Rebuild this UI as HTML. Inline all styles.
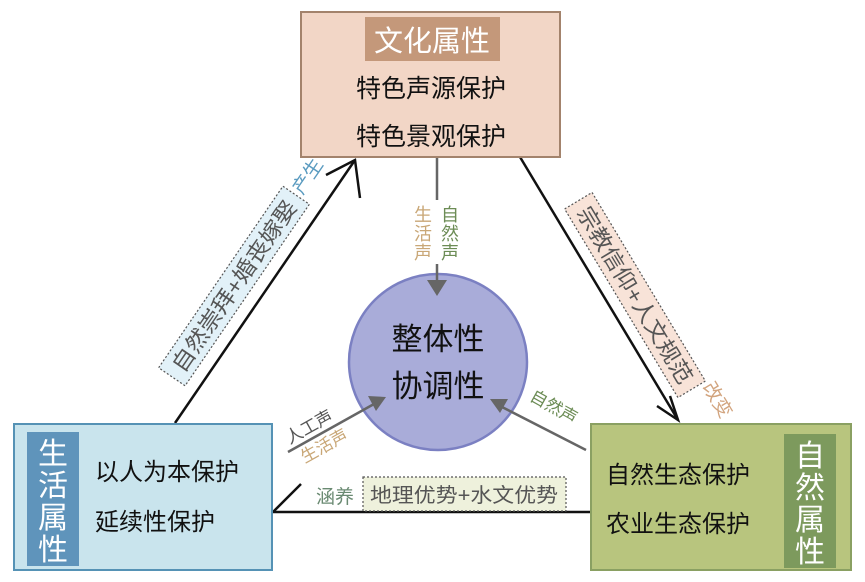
<!DOCTYPE html>
<html><head><meta charset="utf-8"><style>
html,body{margin:0;padding:0;background:#fff;}
svg{display:block;font-family:"Liberation Sans","Noto Sans CJK SC",sans-serif;}
</style></head><body>
<svg width="865" height="582" viewBox="0 0 865 582" xmlns="http://www.w3.org/2000/svg">
<!-- triangle lines -->
<line x1="175" y1="423" x2="355" y2="160" stroke="#111" stroke-width="2.5"/>
<polyline points="326,175 355,160 360,198" fill="none" stroke="#111" stroke-width="2.5"/>
<line x1="520" y1="157" x2="678" y2="420" stroke="#111" stroke-width="2.5"/>
<polyline points="657,406 678,420 670,396" fill="none" stroke="#111" stroke-width="2.5"/>
<line x1="272" y1="512" x2="590" y2="512" stroke="#111" stroke-width="2.5"/>
<line x1="273" y1="512" x2="301" y2="484" stroke="#111" stroke-width="2.5"/>

<!-- slanted label boxes -->
<g transform="translate(234,286) rotate(-55.6)">
<rect x="-110" y="-16" width="220" height="32" fill="#e2f1f8" stroke="#555" stroke-width="1.2" stroke-dasharray="2,2"/>
<text x="0" y="8" font-size="22" fill="#555" text-anchor="middle" textLength="202" lengthAdjust="spacingAndGlyphs">自然崇拜+婚丧嫁娶</text>
</g>
<text transform="translate(313,180) rotate(-55.6)" font-size="19" fill="#5a9bc0" text-anchor="middle">产生</text>
<g transform="translate(635,295) rotate(59)">
<rect x="-110" y="-16" width="220" height="32" fill="#f8e3d8" stroke="#555" stroke-width="1.2" stroke-dasharray="2,2"/>
<text x="0" y="8" font-size="22" fill="#555" text-anchor="middle" textLength="202" lengthAdjust="spacingAndGlyphs">宗教信仰+人文规范</text>
</g>
<text transform="translate(712,403) rotate(59)" font-size="19" fill="#d2a47e" text-anchor="middle">改变</text>

<!-- center circle -->
<ellipse cx="438" cy="362" rx="89" ry="88" fill="#a9acd9" stroke="#7b80c2" stroke-width="2.5"/>
<text x="438" y="350" font-size="31" fill="#111" text-anchor="middle">整体性</text>
<text x="438" y="397" font-size="31" fill="#111" text-anchor="middle">协调性</text>

<!-- arrows to circle -->
<line x1="437" y1="157" x2="437" y2="282" stroke="#666" stroke-width="2.5"/>
<path d="M427,280 L447,280 L437,296 z" fill="#666"/>
<line x1="288" y1="452" x2="374" y2="404" stroke="#666" stroke-width="2.5"/>
<path d="M368,396 L386,397 L376,411 z" fill="#666"/>
<line x1="586" y1="450" x2="502" y2="407" stroke="#666" stroke-width="2.5"/>
<path d="M490,399 L508,399 L500,413 z" fill="#666"/>

<!-- vertical labels -->
<g font-size="18" text-anchor="middle">
<rect x="412" y="200" width="50" height="64" fill="#fff"/>
<text x="423" y="221" fill="#c9a777">生</text>
<text x="423" y="240" fill="#c9a777">活</text>
<text x="423" y="259" fill="#c9a777">声</text>
<text x="450" y="221" fill="#6c8c55">自</text>
<text x="450" y="240" fill="#6c8c55">然</text>
<text x="450" y="259" fill="#6c8c55">声</text>
</g>
<text transform="translate(312,432) rotate(-29)" font-size="17" fill="#555" text-anchor="middle">人工声</text>
<text transform="translate(327,451) rotate(-29)" font-size="17" fill="#c9a777" text-anchor="middle">生活声</text>
<text transform="translate(551,412) rotate(29)" font-size="17" fill="#6c8c55" text-anchor="middle">自然声</text>

<!-- bottom label -->
<text x="335" y="503" font-size="19" fill="#6a8a72" text-anchor="middle">涵养</text>
<rect x="363" y="477" width="203" height="34" fill="#eef1dc" stroke="#555" stroke-width="1.2" stroke-dasharray="2,2"/>
<text x="464" y="502" font-size="20" fill="#555" text-anchor="middle" textLength="188" lengthAdjust="spacingAndGlyphs">地理优势+水文优势</text>

<!-- top box -->
<rect x="301" y="12" width="259" height="145" fill="#f2d6c6" stroke="#a3836c" stroke-width="2"/>
<rect x="365" y="17" width="135" height="44" fill="#c4987a"/>
<text x="432" y="51" font-size="29" fill="#fff" text-anchor="middle">文化属性</text>
<text x="431" y="97" font-size="25" fill="#111" text-anchor="middle">特色声源保护</text>
<text x="431" y="145" font-size="25" fill="#111" text-anchor="middle">特色景观保护</text>

<!-- left box -->
<rect x="14" y="424" width="258" height="146" fill="#c9e4ed" stroke="#5592b5" stroke-width="2"/>
<rect x="27" y="432" width="52" height="134" fill="#5f94bb"/>
<g font-size="30" fill="#fff" text-anchor="middle">
<text x="53" y="464">生</text><text x="53" y="496">活</text><text x="53" y="528">属</text><text x="53" y="560">性</text>
</g>
<text x="95" y="480" font-size="24" fill="#111">以人为本保护</text>
<text x="95" y="530" font-size="24" fill="#111">延续性保护</text>

<!-- right box -->
<rect x="591" y="424" width="260" height="146" fill="#b8c57e" stroke="#8aa062" stroke-width="2"/>
<rect x="784" y="434" width="52" height="134" fill="#7d9a5d"/>
<g font-size="30" fill="#fff" text-anchor="middle">
<text x="810" y="466">自</text><text x="810" y="498">然</text><text x="810" y="530">属</text><text x="810" y="562">性</text>
</g>
<text x="606" y="483" font-size="24" fill="#111">自然生态保护</text>
<text x="606" y="532" font-size="24" fill="#111">农业生态保护</text>
</svg>
</body></html>
